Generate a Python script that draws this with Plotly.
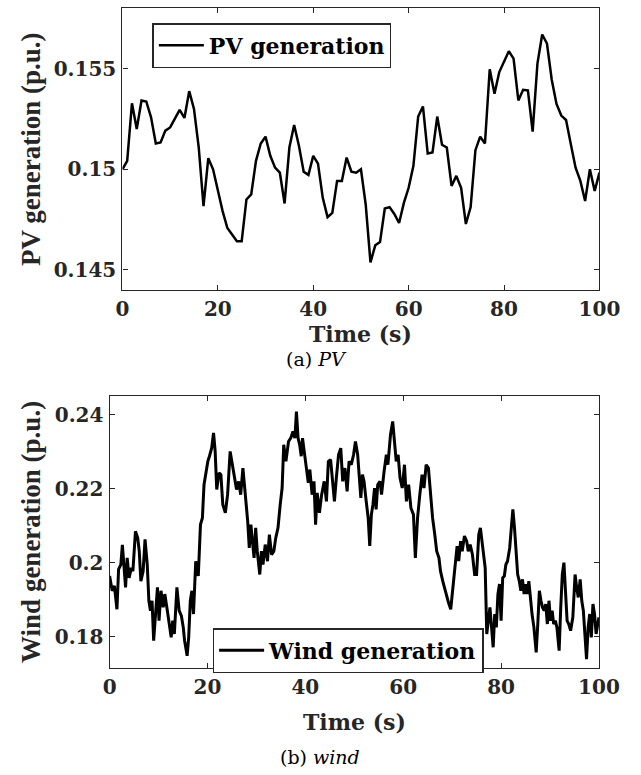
import plotly.graph_objects as go

# PV output, one sample per second
pv_time = list(range(0, 101))
pv_value = [
    0.15000, 0.15042, 0.15328, 0.15200, 0.15342, 0.15337, 0.15258, 0.15128, 0.15133, 0.15192,
    0.15208, 0.15250, 0.15295, 0.15255, 0.15388, 0.15300, 0.15108, 0.14817, 0.15055, 0.15000,
    0.14892, 0.14792, 0.14708, 0.14675, 0.14642, 0.14642, 0.14850, 0.14875, 0.15042, 0.15128,
    0.15162, 0.15067, 0.15008, 0.14983, 0.14830, 0.15108, 0.15220, 0.15117, 0.14988, 0.14972,
    0.15067, 0.15028, 0.14858, 0.14762, 0.14783, 0.14942, 0.14942, 0.15058, 0.14988, 0.14983,
    0.15000, 0.14825, 0.14537, 0.14622, 0.14638, 0.14805, 0.14812, 0.14778, 0.14733, 0.14833,
    0.14908, 0.15017, 0.15262, 0.15312, 0.15078, 0.15083, 0.15262, 0.15122, 0.15108, 0.14917,
    0.14967, 0.14908, 0.14728, 0.14812, 0.15095, 0.15162, 0.15128, 0.15497, 0.15375, 0.15483,
    0.15533, 0.15587, 0.15550, 0.15342, 0.15395, 0.15392, 0.15187, 0.15525, 0.15670, 0.15625,
    0.15445, 0.15325, 0.15267, 0.15245, 0.15125, 0.15008, 0.14942, 0.14842, 0.15000, 0.14892,
    0.14983,
]

# Wind output
wind_time = [
    0, 0.53, 0.98, 1.5, 1.83, 2.29, 2.61, 2.94, 3.26, 3.59,
    3.98, 4.44, 4.76, 5.28, 5.74, 6.06, 6.39, 6.85, 7.24, 7.69,
    8.02, 8.35, 8.67, 9.0, 9.32, 9.78, 10.1, 10.5, 10.95, 11.28,
    11.8, 12.25, 12.58, 12.9, 13.23, 13.75, 14.21, 14.67, 15.05, 15.32,
    15.84, 16.16, 16.49, 16.82, 17.14, 17.6, 18.12, 18.57, 18.96, 19.29,
    19.74, 20.07, 20.4, 20.85, 21.24, 21.57, 21.89, 22.35, 22.74, 23.13,
    23.65, 24.11, 24.63,
    25.48, 25.94, 26.39, 26.78, 27.24, 27.57, 27.89, 28.22, 28.54, 28.87,
    29.19, 29.52, 29.85, 30.17, 30.69, 31.02, 31.34, 31.8, 32.26, 32.65,
    33.1, 33.56, 33.95, 34.41, 34.86, 35.25, 35.58, 36.03, 36.56, 37.01,
    37.47, 37.86, 38.18, 38.51, 38.84, 39.16, 39.42, 39.81, 40.27, 40.6,
    40.92, 41.38, 41.77, 42.09, 42.42, 42.88, 43.33, 43.85, 44.31, 44.7,
    45.16, 45.61, 45.94, 46.33, 46.78, 47.24, 47.63, 48.09, 48.54, 48.93,
    49.39, 49.85, 50.24,
    50.69, 51.01, 51.34, 51.66, 51.99, 52.44, 52.84, 53.16, 53.49, 53.81,
    54.14, 54.46, 54.79, 55.25, 55.57, 56.09, 56.55, 56.87, 57.4, 57.85,
    58.18, 58.57, 58.96, 59.35, 59.8, 60.26, 60.65, 61.11, 61.57, 62.09,
    62.48, 62.93, 63.39, 63.85, 64.24, 64.69, 65.15, 65.54, 66.0, 66.45,
    66.84, 67.3, 67.62, 68.08, 68.4, 68.8, 69.25, 69.71, 70.1, 70.56,
    71.01, 71.34, 71.73, 72.05, 72.51, 72.97, 73.29, 73.68, 74.14, 74.6,
    74.99, 75.44, 75.77,
    76.1, 76.42, 76.75, 77.07, 77.4, 77.72, 78.05, 78.38, 78.7, 79.03,
    79.35, 79.68, 80.0, 80.33, 80.66, 80.98, 81.31, 81.76, 82.09, 82.41,
    82.74, 83.07, 83.39, 83.72, 84.04, 84.37, 84.7, 85.02, 85.35, 85.67,
    86.0, 86.32, 86.71, 87.17, 87.5, 87.82, 88.15, 88.47, 88.8, 89.13,
    89.45, 89.78, 90.1, 90.43, 90.75, 91.08, 91.41, 91.86, 92.19, 92.51,
    92.84, 93.16, 93.49, 93.82, 94.21, 94.66, 95.12, 95.44, 95.77, 96.16,
    96.49, 96.81, 97.14, 97.46, 97.79, 98.11, 98.44, 98.77, 99.09, 99.42,
    100.0,
]
wind_value = [
    0.1964, 0.1924, 0.1937, 0.1874, 0.1982, 0.1995, 0.2048, 0.1986, 0.1933, 0.2013,
    0.1959, 0.1986, 0.1977, 0.2085, 0.2067, 0.2031, 0.1950, 0.1977, 0.2063, 0.1995,
    0.1897, 0.1870, 0.1897, 0.1789, 0.1843, 0.1933, 0.1843, 0.1924, 0.1879, 0.1915,
    0.1870, 0.1825, 0.1798, 0.1843, 0.1807, 0.1933, 0.1870, 0.1856, 0.1825, 0.1789,
    0.1748, 0.1798, 0.1897, 0.1924, 0.1861, 0.2004, 0.1964, 0.2103, 0.2121, 0.2211,
    0.2256, 0.2274, 0.2288, 0.2310, 0.2351, 0.2301, 0.2198, 0.2243, 0.2238, 0.2157,
    0.2135, 0.2184, 0.2301,
    0.2238, 0.2198, 0.2220, 0.2184, 0.2256, 0.2211, 0.2157, 0.2112, 0.2040, 0.2103,
    0.2058, 0.2013, 0.2094, 0.2031, 0.1968, 0.2031, 0.1995, 0.2049, 0.2004, 0.2076,
    0.2022, 0.2031, 0.2067, 0.2094, 0.2157, 0.2202, 0.2319, 0.2274, 0.2328, 0.2337,
    0.2355, 0.2337, 0.2409, 0.2337, 0.2319, 0.2288, 0.2337, 0.2297, 0.2265, 0.2216,
    0.2252, 0.2184, 0.2220, 0.2103, 0.2189, 0.2135, 0.2184, 0.2220, 0.2166, 0.2274,
    0.2279, 0.2211, 0.2166, 0.2229, 0.2292, 0.2310, 0.2220, 0.2256, 0.2193, 0.2274,
    0.2265, 0.2292, 0.2328,
    0.2292, 0.2229, 0.2175, 0.2238, 0.2220, 0.2166, 0.2121, 0.2045, 0.2130, 0.2157,
    0.2202, 0.2144, 0.2211, 0.2220, 0.2184, 0.2247, 0.2292, 0.2265, 0.2346, 0.2382,
    0.2337, 0.2274, 0.2292, 0.2229, 0.2202, 0.2265, 0.2166, 0.2211, 0.2148, 0.2130,
    0.2013, 0.2121, 0.2184, 0.2238, 0.2202, 0.2265, 0.2256, 0.2193, 0.2121, 0.2076,
    0.2031, 0.2013, 0.1977, 0.1950, 0.1933, 0.1915, 0.1892, 0.1874, 0.1933, 0.1986,
    0.2045, 0.2004, 0.2058, 0.2031, 0.2072, 0.2058, 0.2031, 0.2049, 0.2022, 0.1968,
    0.1968, 0.2076, 0.2094,
    0.2058, 0.2022, 0.1986, 0.1807, 0.1843, 0.1879, 0.1825, 0.1771, 0.1861, 0.1825,
    0.1915, 0.1942, 0.1843, 0.1959, 0.1964, 0.1995, 0.2004, 0.2040, 0.2094, 0.2144,
    0.2094, 0.2040, 0.1968, 0.1950, 0.1924, 0.1955, 0.1915, 0.1942, 0.1915, 0.1950,
    0.1897, 0.1861, 0.1825, 0.1757, 0.1834, 0.1924, 0.1897, 0.1879, 0.1870, 0.1888,
    0.1834, 0.1897, 0.1843, 0.1870, 0.1834, 0.1843, 0.1825, 0.1762, 0.1879, 0.1968,
    0.2000, 0.1915, 0.1843, 0.1834, 0.1816, 0.1852, 0.1968, 0.1933, 0.1906, 0.1955,
    0.1897, 0.1870, 0.1789, 0.1739, 0.1825, 0.1861, 0.1798, 0.1888, 0.1861, 0.1807,
    0.1852,
]

time_ticks = [0, 20, 40, 60, 80, 100]
pv_ticks = [0.145, 0.15, 0.155]
pv_tick_text = ["0.145", "0.15", "0.155"]
wind_ticks = [0.18, 0.2, 0.22, 0.24]
wind_tick_text = ["0.18", "0.2", "0.22", "0.24"]

W, H = 641, 775
INK = "#262626"
BOLD = dict(family="DejaVu Serif", weight="bold", color=INK)


def px_x(x):
    return x / W


def px_y(y):
    return 1 - y / H


axis_style = dict(
    showline=True, linecolor=INK, linewidth=1.3, mirror="ticks",
    ticks="inside", ticklen=5, tickwidth=1.3, tickcolor=INK,
    showgrid=False, zeroline=False, ticklabelstandoff=1,
    tickfont=dict(size=20, **BOLD),
)

fig = go.Figure()
fig.add_trace(go.Scatter(
    x=pv_time, y=pv_value, mode="lines", name="PV generation",
    line=dict(color="black", width=2.5), xaxis="x", yaxis="y", legend="legend",
))
fig.add_trace(go.Scatter(
    x=wind_time, y=wind_value, mode="lines", name="Wind generation",
    line=dict(color="black", width=3), xaxis="x2", yaxis="y2", legend="legend2",
))

legend_style = dict(
    xanchor="left", yanchor="top", bgcolor="white",
    bordercolor=INK, borderwidth=1.5,
    font=dict(size=22, family="DejaVu Serif", weight="bold", color="black"),
    itemwidth=45,
)

fig.update_layout(
    width=W, height=H, margin=dict(l=0, r=0, t=0, b=0),
    paper_bgcolor="white", plot_bgcolor="white",
    showlegend=True,
    xaxis=dict(domain=[px_x(120.7), px_x(619.5)], range=[0, 100], anchor="y",
               tickvals=time_ticks, **axis_style),
    yaxis=dict(domain=[px_y(290), px_y(8.3)], range=[0.144, 0.158], anchor="x",
               tickvals=pv_ticks, ticktext=pv_tick_text, **axis_style),
    xaxis2=dict(domain=[px_x(107.3), px_x(619)], range=[0, 100], anchor="y2",
                tickvals=time_ticks, **axis_style),
    yaxis2=dict(domain=[px_y(668), px_y(396)], range=[0.1715, 0.2451], anchor="x2",
                tickvals=wind_ticks, ticktext=wind_tick_text, **axis_style),
    legend=dict(x=px_x(152), y=px_y(23), **legend_style),
    legend2=dict(x=px_x(215), y=px_y(628), **legend_style),
)

titles = [
    ("PV generation (p.u.)", 25, 149, -90, dict(size=27, family="Liberation Serif", weight="bold", color=INK)),
    ("Wind generation (p.u.)", 25, 532, -90, dict(size=27, family="Liberation Serif", weight="bold", color=INK)),
    ("Time (s)", 370, 334, 0, dict(size=22, **BOLD)),
    ("Time (s)", 363, 722, 0, dict(size=22, **BOLD)),
    ("(a) <i>PV</i>", 324, 359, 0, dict(size=19, family="DejaVu Serif", color="black")),
    ("(b) <i>wind</i>", 327, 757, 0, dict(size=19, family="DejaVu Serif", color="black")),
]
for text, x, y, angle, font in titles:
    fig.add_annotation(
        text=text, x=px_x(x), y=px_y(y), xref="paper", yref="paper",
        xanchor="center", yanchor="middle", textangle=angle,
        showarrow=False, font=font,
    )

fig.write_html("out.html")
